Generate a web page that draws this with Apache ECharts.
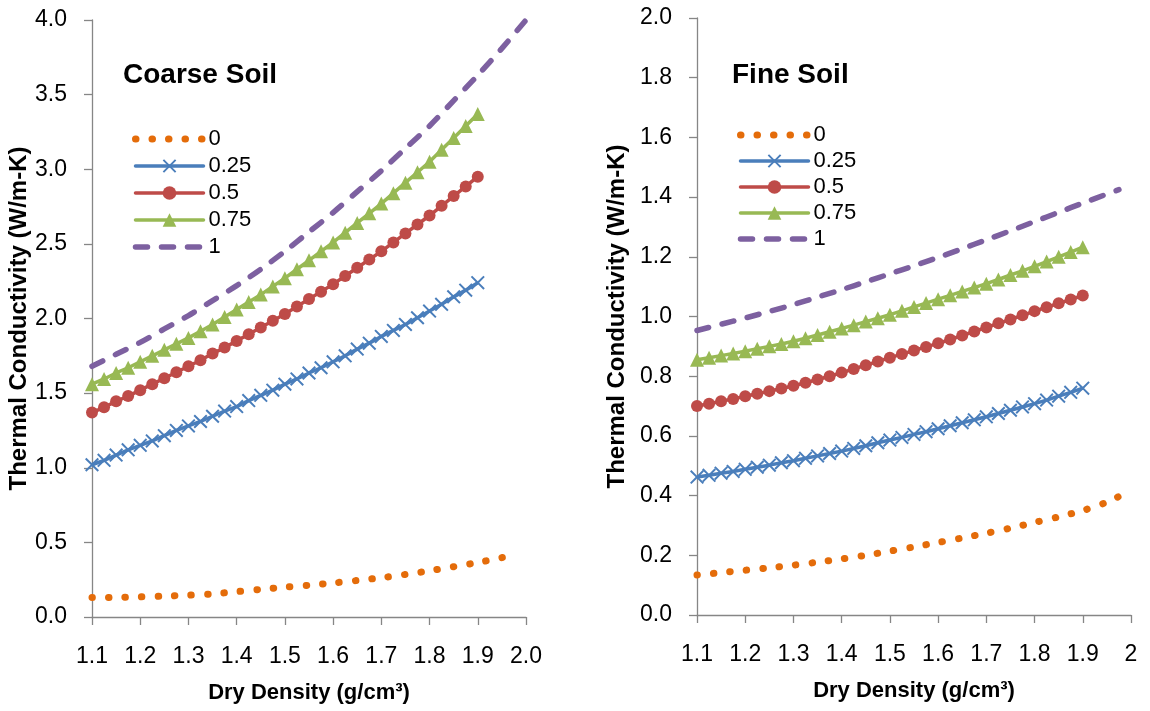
<!DOCTYPE html>
<html>
<head>
<meta charset="utf-8">
<script src="https://cdn.jsdelivr.net/npm/echarts@6/dist/echarts.min.js"></script>
<style>
  html, body { margin: 0; padding: 0; background: #ffffff; }
  #chart { width: 1150px; height: 711px; }
</style>
</head>
<body>
<div id="chart"></div>
<script>
// Degree of saturation for each curve
const saturationNames = ['0', '0.25', '0.5', '0.75', '1'];

// Dry density sampled for the marked curves (g/cm3)
const densityMarked = [1.1, 1.125, 1.15, 1.175, 1.2, 1.225, 1.25, 1.275, 1.3, 1.325, 1.35, 1.375, 1.4, 1.425, 1.45, 1.475,
  1.5, 1.525, 1.55, 1.575, 1.6, 1.625, 1.65, 1.675, 1.7, 1.725, 1.75, 1.775, 1.8, 1.825, 1.85, 1.875, 1.9];

// Coarse soil, thermal conductivity (W/m-K)
const coarseDensityDry = [1.1, 1.15, 1.2, 1.25, 1.3, 1.35, 1.4, 1.45, 1.5, 1.55, 1.6, 1.65, 1.7, 1.75, 1.8, 1.85, 1.9, 1.95, 1.975];
const coarseS000 = [0.13, 0.131, 0.135, 0.14, 0.146, 0.155, 0.17, 0.185, 0.2, 0.213, 0.228, 0.245, 0.263, 0.285, 0.31, 0.337, 0.365, 0.398, 0.415];
const coarseS025 = [1.02, 1.05, 1.085, 1.12, 1.15, 1.18, 1.215, 1.25, 1.28, 1.31, 1.345, 1.38, 1.41, 1.45, 1.485, 1.52,
  1.56, 1.595, 1.635, 1.67, 1.71, 1.75, 1.795, 1.835, 1.88, 1.92, 1.96, 2.005, 2.05, 2.095, 2.145, 2.19, 2.24];
const coarseS050 = [1.37, 1.405, 1.445, 1.48, 1.52, 1.56, 1.6, 1.64, 1.68, 1.72, 1.765, 1.805, 1.85, 1.895, 1.94, 1.985,
  2.03, 2.08, 2.13, 2.18, 2.23, 2.285, 2.34, 2.395, 2.45, 2.51, 2.57, 2.63, 2.69, 2.755, 2.82, 2.885, 2.95];
const coarseS075 = [1.56, 1.595, 1.635, 1.67, 1.71, 1.75, 1.79, 1.83, 1.87, 1.915, 1.96, 2.01, 2.06, 2.11, 2.16, 2.215,
  2.27, 2.33, 2.39, 2.45, 2.51, 2.575, 2.64, 2.705, 2.77, 2.84, 2.91, 2.98, 3.05, 3.13, 3.21, 3.29, 3.37];
const coarseDensitySat = [1.1, 1.15, 1.2, 1.25, 1.3, 1.35, 1.4, 1.45, 1.5, 1.55, 1.6, 1.65, 1.7, 1.75, 1.8, 1.85, 1.9, 1.95, 2.0];
const coarseS100 = [1.68, 1.76, 1.84, 1.93, 2.02, 2.12, 2.22, 2.33, 2.45, 2.58, 2.71, 2.85, 2.99, 3.14, 3.29, 3.46, 3.63, 3.81, 4.0];

// Fine soil, thermal conductivity (W/m-K)
const fineDensityDry = [1.1, 1.15, 1.2, 1.25, 1.3, 1.35, 1.4, 1.45, 1.5, 1.55, 1.6, 1.65, 1.7, 1.75, 1.8, 1.85, 1.9, 1.95, 1.99];
const fineS000 = [0.134, 0.142, 0.15, 0.158, 0.167, 0.177, 0.188, 0.2, 0.214, 0.228, 0.243, 0.258, 0.274, 0.291, 0.31, 0.329, 0.35, 0.378, 0.41];
const fineS025 = [0.462, 0.468, 0.475, 0.481, 0.488, 0.495, 0.502, 0.51, 0.517, 0.525, 0.533, 0.541, 0.549, 0.558, 0.567, 0.577,
  0.586, 0.595, 0.605, 0.614, 0.624, 0.634, 0.644, 0.654, 0.664, 0.675, 0.686, 0.697, 0.708, 0.72, 0.733, 0.746, 0.76];
const fineS050 = [0.7, 0.708, 0.716, 0.724, 0.733, 0.741, 0.75, 0.759, 0.768, 0.778, 0.789, 0.8, 0.812, 0.824, 0.837, 0.849,
  0.862, 0.874, 0.886, 0.898, 0.91, 0.923, 0.936, 0.95, 0.963, 0.977, 0.99, 1.004, 1.018, 1.031, 1.044, 1.057, 1.07];
const fineS075 = [0.855, 0.862, 0.869, 0.876, 0.884, 0.892, 0.9, 0.908, 0.917, 0.927, 0.938, 0.949, 0.96, 0.971, 0.983, 0.994,
  1.006, 1.019, 1.032, 1.045, 1.058, 1.071, 1.084, 1.097, 1.11, 1.124, 1.139, 1.153, 1.168, 1.184, 1.2, 1.216, 1.232];
const fineDensitySat = [1.1, 1.15, 1.2, 1.25, 1.3, 1.35, 1.4, 1.45, 1.5, 1.55, 1.6, 1.65, 1.7, 1.75, 1.8, 1.85, 1.9, 1.95, 1.975];
const fineS100 = [0.953, 0.974, 0.995, 1.017, 1.04, 1.065, 1.09, 1.116, 1.143, 1.17, 1.198, 1.227, 1.257, 1.287, 1.318, 1.349, 1.38, 1.41, 1.425];

// Tick labels
const coarseXTicks = ['1.1', '1.2', '1.3', '1.4', '1.5', '1.6', '1.7', '1.8', '1.9', '2.0'];
const fineXTicks = ['1.1', '1.2', '1.3', '1.4', '1.5', '1.6', '1.7', '1.8', '1.9', '2'];
const coarseYTicks = ['0.0', '0.5', '1.0', '1.5', '2.0', '2.5', '3.0', '3.5', '4.0'];
const fineYTicks = ['0.0', '0.2', '0.4', '0.6', '0.8', '1.0', '1.2', '1.4', '1.6', '1.8', '2.0'];

const panelTitles = ['Coarse Soil', 'Fine Soil'];
const xAxisTitle = 'Dry Density (g/cm³)';
const yAxisTitle = 'Thermal Conductivity (W/m-K)';

const FONT = '"Liberation Sans", Arial, sans-serif';
const AXIS_GREY = '#868686';
const COLORS = ['#E46C0A', '#4A7EBB', '#BE4B48', '#98B954', '#7D60A0'];
const CROSS = 'path://M0,1L1,0L5,4L9,0L10,1L6,5L10,9L9,10L5,6L1,10L0,9L4,5Z';
const DOTS = [0.5, 16];
const DASHES = [12, 14];

const pairs = (xs, ys) => xs.map((x, i) => [x, ys[i]]);
const tickFormatter = (labels, min, step) => (v) => {
  const i = Math.round((v - min) / step);
  return labels[i] !== undefined ? labels[i] : '';
};

function makeXAxis(gridIndex, labels) {
  return {
    gridIndex, type: 'value', min: 1.1, max: 2.0, interval: 0.1,
    name: xAxisTitle, nameLocation: 'middle', nameGap: 65,
    nameTextStyle: { fontFamily: FONT, fontSize: 22, fontWeight: 'bold', color: '#000' },
    axisLine: { show: true, onZero: false, lineStyle: { color: AXIS_GREY, width: 1.3 } },
    axisTick: { show: true, inside: false, length: 8, lineStyle: { color: AXIS_GREY, width: 1.3 } },
    axisLabel: { margin: 28, fontFamily: FONT, fontSize: 23, color: '#000', formatter: tickFormatter(labels, 1.1, 0.1) },
    splitLine: { show: false }
  };
}

function makeYAxis(gridIndex, labels, max, step, gap) {
  return {
    gridIndex, type: 'value', min: 0, max, interval: step,
    name: yAxisTitle, nameLocation: 'middle', nameGap: gap, nameRotate: 90,
    nameTextStyle: { fontFamily: FONT, fontSize: 24, fontWeight: 'bold', color: '#000' },
    axisLine: { show: true, lineStyle: { color: AXIS_GREY, width: 1.3 } },
    axisTick: { show: true, inside: false, length: 8, lineStyle: { color: AXIS_GREY, width: 1.3 } },
    axisLabel: { margin: 25, fontFamily: FONT, fontSize: 23, color: '#000', formatter: tickFormatter(labels, 0, step) },
    splitLine: { show: false }
  };
}

function makeSeries(idx, sets) {
  const [dry, s25, s50, s75, sat] = sets;
  return [
    {
      name: saturationNames[0], type: 'line', xAxisIndex: idx, yAxisIndex: idx,
      data: pairs(dry[0], dry[1]), symbol: 'none', smooth: 0.3,
      lineStyle: { color: COLORS[0], width: 7, type: DOTS, cap: 'round' },
      itemStyle: { color: COLORS[0] }
    },
    {
      name: saturationNames[1], type: 'line', xAxisIndex: idx, yAxisIndex: idx,
      data: pairs(densityMarked, s25), symbol: CROSS, symbolSize: 14, showAllSymbol: true,
      lineStyle: { color: COLORS[1], width: 3.5 }, itemStyle: { color: COLORS[1] }
    },
    {
      name: saturationNames[2], type: 'line', xAxisIndex: idx, yAxisIndex: idx,
      data: pairs(densityMarked, s50), symbol: 'circle', symbolSize: 12, showAllSymbol: true,
      lineStyle: { color: COLORS[2], width: 3.5 }, itemStyle: { color: COLORS[2] }
    },
    {
      name: saturationNames[3], type: 'line', xAxisIndex: idx, yAxisIndex: idx,
      data: pairs(densityMarked, s75), symbol: 'triangle', symbolSize: 14, showAllSymbol: true,
      lineStyle: { color: COLORS[3], width: 3.5 }, itemStyle: { color: COLORS[3] }
    },
    {
      name: saturationNames[4], type: 'line', xAxisIndex: idx, yAxisIndex: idx,
      data: pairs(sat[0], sat[1]), symbol: 'none', smooth: 0.3,
      lineStyle: { color: COLORS[4], width: 5.5, type: DASHES, cap: 'round' },
      itemStyle: { color: COLORS[4] }
    }
  ];
}

function makeLegend(left, top, gap) {
  const hidden = { opacity: 0, color: 'rgba(0,0,0,0)', borderWidth: 0 };
  return {
    orient: 'vertical', left, top, itemWidth: 68, itemHeight: 17, itemGap: gap,
    selectedMode: false, padding: 0,
    textStyle: { fontFamily: FONT, fontSize: 22, color: '#000', lineHeight: 22 },
    data: [
      { name: saturationNames[0], itemStyle: hidden,
        lineStyle: { width: 7, type: DOTS, cap: 'round', color: COLORS[0] } },
      { name: saturationNames[1], lineStyle: { width: 3.5, cap: 'round', color: COLORS[1] } },
      { name: saturationNames[2], lineStyle: { width: 3.5, cap: 'round', color: COLORS[2] } },
      { name: saturationNames[3], lineStyle: { width: 3.5, cap: 'round', color: COLORS[3] } },
      { name: saturationNames[4], itemStyle: hidden,
        lineStyle: { width: 5.5, type: DASHES, cap: 'round', color: COLORS[4] } }
    ]
  };
}

const chart = echarts.init(document.getElementById('chart'), null, { renderer: 'canvas' });
chart.setOption({
  animation: false,
  backgroundColor: '#ffffff',
  title: [
    { text: panelTitles[0], left: 123, top: 61, padding: 0,
      textStyle: { fontFamily: FONT, fontSize: 28, fontWeight: 'bold', color: '#000' } },
    { text: panelTitles[1], left: 732, top: 61, padding: 0,
      textStyle: { fontFamily: FONT, fontSize: 28, fontWeight: 'bold', color: '#000' } }
  ],
  legend: [makeLegend(132, 128, 5), makeLegend(737, 124, 4)],
  grid: [
    { left: 92, top: 20, width: 434, height: 597, containLabel: false },
    { left: 697, top: 18, width: 434, height: 597, containLabel: false }
  ],
  xAxis: [makeXAxis(0, coarseXTicks), makeXAxis(1, fineXTicks)],
  yAxis: [makeYAxis(0, coarseYTicks, 4.0, 0.5, 59), makeYAxis(1, fineYTicks, 2.0, 0.2, 68)],
  series: [
    ...makeSeries(0, [[coarseDensityDry, coarseS000], coarseS025, coarseS050, coarseS075, [coarseDensitySat, coarseS100]]),
    ...makeSeries(1, [[fineDensityDry, fineS000], fineS025, fineS050, fineS075, [fineDensitySat, fineS100]])
  ]
});
</script>
</body>
</html>
